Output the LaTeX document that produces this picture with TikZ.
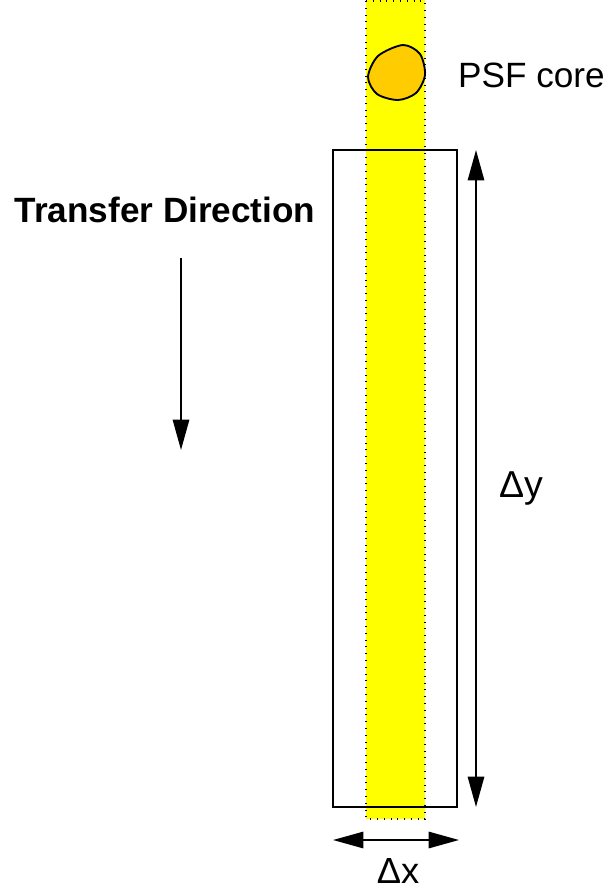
\documentclass[tikz,border=0pt]{standalone}
\usepackage{fontspec}
\setmainfont{Liberation Sans}
\usetikzlibrary{arrows.meta}
\definecolor{strip}{RGB}{255,255,0}
\definecolor{core}{RGB}{255,204,0}
\begin{document}
\begin{tikzpicture}[x=0.03cm,y=-0.03cm,>={Triangle[length=26pt,width=14pt]},
  label/.style={inner sep=0pt,font=\fontsize{30}{36}\selectfont},
  line/.style={line width=1.6pt}]
\useasboundingbox (0,0) rectangle (606,894);
% yellow strip
\fill[strip] (366,0) rectangle (425,819);
\draw[dash pattern=on 0.8pt off 5pt,line width=1.6pt] (366,1) -- (425,1) -- (425,819) -- (366,819) -- cycle;
% psf core
\draw[line,fill=core] plot[smooth cycle] coordinates
  {(368,77) (378,56) (403,45) (420,54) (425,75) (416,93) (398,100) (377,94)};
\node[label,anchor=west] (psf) at (458,75) {PSF core};
% column
\draw[line] (333,150) rectangle (457,807);
\coordinate (yt) at (476,150);
\coordinate (yb) at (476,807);
\draw[line,<->] (yt) -- (yb);
\node[label,font=\fontsize{32}{38}\selectfont] (dy) at (521,488) {Δy};
\coordinate (xl) at (333,840);
\coordinate (xr) at (459,840);
\draw[line,<->] (xl) -- (xr);
\node[label,font=\fontsize{31}{37}\selectfont] (dx) at (398,871) {Δx};
% transfer direction
\node[label,font=\fontsize{30}{36}\selectfont\bfseries] (td) at (165,210) {Transfer Direction};
\coordinate (ta) at (181,258);
\coordinate (tb) at (181,450);
\draw[line,->] (ta) -- (tb);
\end{tikzpicture}
\end{document}
